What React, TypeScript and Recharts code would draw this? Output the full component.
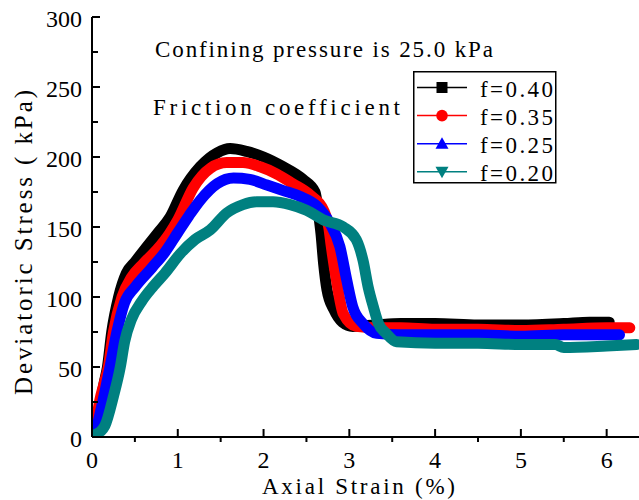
import { LineChart, Line, XAxis, YAxis, Legend } from "recharts";

const SERIF = "Liberation Serif";

const blackX = [0, 0.03, 0.06, 0.1, 0.14, 0.18, 0.23, 0.31, 0.4, 0.5, 0.64, 0.77, 0.91, 1.06, 1.26, 1.46, 1.61, 1.8, 2.0, 2.23, 2.46, 2.6, 2.64, 2.67, 2.7, 2.74, 2.82, 2.92, 3.04, 3.3, 3.6, 4.0, 4.5, 5.0, 5.5, 5.8, 6.03];
const blackY = [0, 4, 12, 25, 38, 50, 75, 100, 117, 125, 136, 146, 157, 176, 193, 203, 206, 204, 200, 193, 184, 175, 160, 145, 124, 105, 91, 82, 79, 80, 81, 81, 80, 80, 81, 82, 82];

const redX = [0, 0.04, 0.09, 0.14, 0.19, 0.25, 0.35, 0.46, 0.6, 0.76, 0.9, 1.0, 1.18, 1.38, 1.57, 1.76, 1.96, 2.15, 2.34, 2.54, 2.7, 2.76, 2.79, 2.85, 2.93, 3.08, 3.3, 3.6, 4.0, 4.5, 5.0, 5.5, 6.0, 6.27];
const redY = [0, 8, 26, 38, 50, 75, 100, 114, 124, 134, 145, 155, 178, 192, 196, 196, 193, 188, 181, 173, 162, 150, 136, 112, 88, 79, 78, 78, 77, 77, 76, 77, 78, 78];

const blueX = [0, 0.05, 0.11, 0.16, 0.21, 0.29, 0.38, 0.5, 0.7, 0.85, 1.0, 1.13, 1.26, 1.46, 1.65, 1.84, 2.04, 2.23, 2.42, 2.62, 2.77, 2.89, 2.97, 3.04, 3.16, 3.32, 3.6, 4.0, 4.5, 5.0, 5.5, 6.0, 6.15];
const blueY = [0, 6, 21, 35, 50, 75, 96, 107, 121, 132, 146, 158, 169, 181, 185, 184, 180, 176, 172, 165, 153, 136, 112, 93, 81, 74, 73, 73, 73, 72, 73, 73, 73];

const tealX = [0, 0.05, 0.1, 0.15, 0.25, 0.33, 0.38, 0.46, 0.58, 0.72, 0.85, 1.03, 1.2, 1.38, 1.57, 1.76, 1.92, 2.11, 2.31, 2.5, 2.7, 2.93, 3.08, 3.16, 3.22, 3.28, 3.34, 3.43, 3.55, 4.0, 4.5, 5.0, 5.4, 5.5, 6.0, 6.35];
const tealY = [0, 2, 4, 8, 29, 50, 68, 84, 97, 108, 117, 131, 141, 148, 160, 166, 168, 168, 166, 162, 155, 150, 141, 126, 107, 93, 81, 74, 68, 67, 67, 66, 66, 64, 65, 66];

const xTicks = [0, 0.5, 1, 1.5, 2, 2.5, 3, 3.5, 4, 4.5, 5, 5.5, 6];
const yTicks = [0, 25, 50, 75, 100, 125, 150, 175, 200, 225, 250, 275, 300];

const SERIES = [
  { name: "f=0.40", color: "#000000", shape: "square", xs: blackX, ys: blackY },
  { name: "f=0.35", color: "#ff0000", shape: "circle", xs: redX, ys: redY },
  { name: "f=0.25", color: "#0000ff", shape: "up", xs: blueX, ys: blueY },
  { name: "f=0.20", color: "#008080", shape: "down", xs: tealX, ys: tealY },
];

const toPoints = (xs: number[], ys: number[]) => xs.map((x, i) => ({ x, y: ys[i] }));

const txt = { fontFamily: SERIF };

const BottomTick = ({ x, y, payload }: any) => {
  const v = payload.value;
  const major = Number.isInteger(v);
  return (
    <g>
      <line x1={x} x2={x} y1={y} y2={major ? y - 8 : y + 5} stroke="#000" strokeWidth={2} />
      {major && (
        <text x={x} y={y + 31} textAnchor="middle" style={txt} fontSize={24} fill="#000">
          {v}
        </text>
      )}
    </g>
  );
};

const TopTick = ({ x, y }: any) => <line x1={x} x2={x} y1={y} y2={y + 5} stroke="#000" strokeWidth={2} />;

const LeftTick = ({ x, y, payload }: any) => {
  const v = payload.value;
  const major = v % 50 === 0;
  return (
    <g>
      <line x1={x} x2={x + (major ? 8 : 6)} y1={y} y2={y} stroke="#000" strokeWidth={2} />
      {major && (
        <text x={x - 10} y={y + 9.5} textAnchor="end" style={txt} fontSize={24} fill="#000">
          {v}
        </text>
      )}
    </g>
  );
};

const Marker = ({ shape, color, cx, cy }: { shape: string; color: string; cx: number; cy: number }) => {
  if (shape === "square") return <rect x={cx - 5.5} y={cy - 5.5} width={11} height={11} fill={color} />;
  if (shape === "circle") return <circle cx={cx} cy={cy} r={5.8} fill={color} />;
  if (shape === "up") return <polygon points={`${cx},${cy - 6.5} ${cx + 6.5},${cy + 5} ${cx - 6.5},${cy + 5}`} fill={color} />;
  return <polygon points={`${cx - 6.5},${cy - 5} ${cx + 6.5},${cy - 5} ${cx},${cy + 6.5}`} fill={color} />;
};

const renderLegend = () => (
  <svg width={144} height={116} style={{ display: "block", overflow: "visible" }}>
    <rect x={0.75} y={0.75} width={142} height={111} fill="#fff" stroke="#000" strokeWidth={1.5} />
    {SERIES.map((s, i) => {
      const cy = 16.5 + i * 28.1;
      return (
        <g key={s.name}>
          <line x1={4} x2={54} y1={cy} y2={cy} stroke={s.color} strokeWidth={1.5} />
          <Marker shape={s.shape} color={s.color} cx={29} cy={cy} />
          <text x={67} y={cy + 9.3} style={txt} fontSize={23} textLength={73} lengthAdjust="spacing" fill="#000">
            {s.name}
          </text>
        </g>
      );
    })}
  </svg>
);

export default function App() {
  return (
    <div style={{ position: "absolute", left: 0, top: 0, width: 639, height: 500, background: "#fff" }}>
      <LineChart width={639} height={500} margin={{ top: 17, right: 0, bottom: 0, left: 0 }}>
        <XAxis
          dataKey="x"
          type="number"
          domain={[0, 6.377]}
          allowDataOverflow
          ticks={xTicks}
          interval={0}
          tick={<BottomTick />}
          tickLine={false}
          tickSize={0}
          tickMargin={0}
          height={63}
          axisLine={{ stroke: "#000", strokeWidth: 2 }}
        />
        <XAxis
          xAxisId="top"
          orientation="top"
          dataKey="x"
          type="number"
          domain={[0, 6.377]}
          allowDataOverflow
          ticks={xTicks}
          interval={0}
          tick={<TopTick />}
          tickLine={false}
          tickSize={0}
          tickMargin={0}
          height={0}
          axisLine={{ stroke: "#000", strokeWidth: 2 }}
        />
        <YAxis
          type="number"
          domain={[0, 300]}
          allowDataOverflow
          ticks={yTicks}
          interval={0}
          tick={<LeftTick />}
          tickLine={false}
          tickSize={0}
          tickMargin={0}
          width={92}
          axisLine={{ stroke: "#000", strokeWidth: 2 }}
        />
        <Legend
          layout="vertical"
          align="center"
          verticalAlign="middle"
          content={renderLegend}
          wrapperStyle={{ left: 413, top: 71, width: 144, height: 116 }}
        />
        {SERIES.map((s) => (
          <Line
            key={s.name}
            data={toPoints(s.xs, s.ys)}
            dataKey="y"
            name={s.name}
            type="monotone"
            stroke={s.color}
            strokeWidth={11}
            strokeLinejoin="round"
            strokeLinecap="round"
            dot={false}
            activeDot={false}
            isAnimationActive={false}
          />
        ))}
        <g>
          <text x={155} y={57} style={txt} fontSize={23} textLength={338} lengthAdjust="spacing" fill="#000">
            Confining pressure is 25.0 kPa
          </text>
          <text x={153} y={115} style={txt} fontSize={23} textLength={247} lengthAdjust="spacing" fill="#000">
            Friction coefficient
          </text>
          <text x={262} y={494} style={txt} fontSize={23} textLength={193} lengthAdjust="spacing" fill="#000">
            Axial Strain (%)
          </text>
          <text
            x={0}
            y={0}
            transform="translate(32 395) rotate(-90)"
            style={txt}
            fontSize={25}
            textLength={305}
            lengthAdjust="spacing"
            fill="#000"
          >
            Deviatoric Stress ( kPa)
          </text>
        </g>
      </LineChart>
    </div>
  );
}
